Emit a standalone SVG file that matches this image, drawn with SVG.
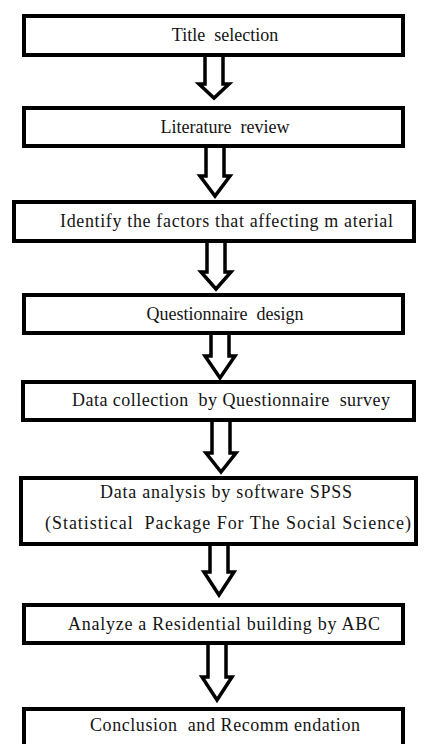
<svg xmlns="http://www.w3.org/2000/svg" width="425" height="744" viewBox="0 0 425 744">
  <style>
    .box { fill: #ffffff; stroke: #000000; stroke-width: 4; }
    .arrow { fill: #ffffff; stroke: #000000; stroke-width: 3.5; stroke-linejoin: miter; }
    text { font-family: 'Liberation Serif', 'Times New Roman', 'DejaVu Serif', serif; font-size: 18px; fill: #141414; }
  </style>
  <rect width="425" height="744" fill="#ffffff"/>

  <!-- hollow block arrows between steps -->
  <g id="connectors">
    <path class="arrow" d="M205,57 V84 H199 L214,98 L229,84 H223 V57"/>
    <path class="arrow" d="M206,148 V176 H200 L215,196 L230,176 H224 V148"/>
    <path class="arrow" d="M207,243 V272 H201 L216,289 L231,272 H225 V243"/>
    <path class="arrow" d="M211,335 V356 H205 L220,378 L235,356 H229 V335"/>
    <path class="arrow" d="M212,422 V453 H206 L221,472 L236,453 H230 V422"/>
    <path class="arrow" d="M210,546 V572 H204 L219,595 L234,572 H228 V546"/>
    <path class="arrow" d="M208,645 V677 H202 L217,700 L232,677 H226 V645"/>
  </g>

  <g id="step1">
    <rect class="box" x="24" y="16" width="379" height="39"/>
    <text x="225" y="41" text-anchor="middle" xml:space="preserve">Title  selection</text>
  </g>
  <g id="step2">
    <rect class="box" x="24" y="108" width="379" height="38"/>
    <text x="225" y="133" text-anchor="middle" xml:space="preserve">Literature  review</text>
  </g>
  <g id="step3">
    <rect class="box" x="14" y="202" width="400" height="39"/>
    <text x="60" y="227" textLength="333" lengthAdjust="spacing">Identify the factors that affecting m aterial</text>
  </g>
  <g id="step4">
    <rect class="box" x="24" y="295" width="379" height="38"/>
    <text x="225" y="320" text-anchor="middle" xml:space="preserve">Questionnaire  design</text>
  </g>
  <g id="step5">
    <rect class="box" x="23" y="382" width="391" height="38"/>
    <text x="72" y="406" textLength="318" lengthAdjust="spacing" xml:space="preserve">Data collection  by Questionnaire  survey</text>
  </g>
  <g id="step6">
    <rect class="box" x="21" y="478" width="395" height="66"/>
    <text x="100" y="498" textLength="252" lengthAdjust="spacing">Data analysis by software SPSS</text>
    <text x="45" y="529" textLength="366" lengthAdjust="spacing" xml:space="preserve">(Statistical  Package For The Social Science)</text>
  </g>
  <g id="step7">
    <rect class="box" x="24" y="605" width="379" height="38"/>
    <text x="68" y="630" textLength="312" lengthAdjust="spacing">Analyze a Residential building by ABC</text>
  </g>
  <g id="step8">
    <rect class="box" x="24" y="709" width="379" height="45"/>
    <text x="90" y="731" textLength="270" lengthAdjust="spacing" xml:space="preserve">Conclusion  and Recomm endation</text>
  </g>
</svg>
